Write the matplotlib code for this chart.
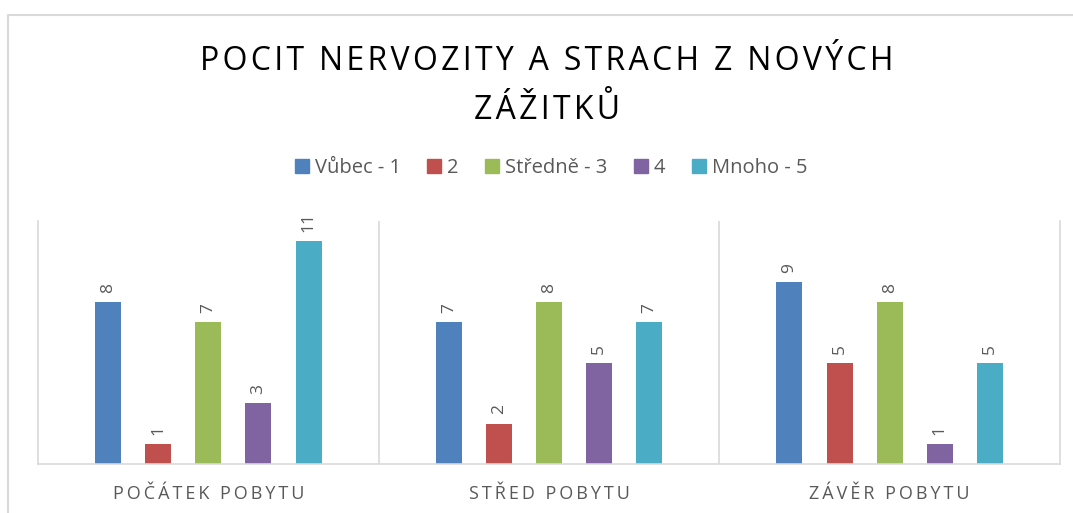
import matplotlib
matplotlib.use("Agg")

import matplotlib.pyplot as plt
from matplotlib.lines import Line2D
from matplotlib.patches import Patch
import numpy as np

plt.rcParams["font.family"] = ["Open Sans", "DejaVu Sans"]

title_lines = ["POCIT NERVOZITY A STRACH Z NOVÝCH", "ZÁŽITKŮ"]
groups = ["POČÁTEK POBYTU", "STŘED POBYTU", "ZÁVĚR POBYTU"]
series = ["Vůbec - 1", "2", "Středně - 3", "4", "Mnoho - 5"]
values = [
    [8, 7, 9],    # Vůbec - 1
    [1, 2, 5],    # 2
    [7, 8, 8],    # Středně - 3
    [3, 5, 1],    # 4
    [11, 7, 5],   # Mnoho - 5
]
colors = ["#4F81BD", "#C0504D", "#9BBB59", "#8064A2", "#4BACC6"]

GRAY = "#595959"
LINE = "#D9D9D9"


def spaced(s, sep="\u200a"):
    return sep.join(s)


W, H = 1073, 513
fig = plt.figure(figsize=(W / 100, H / 100), dpi=100)

# outer chart frame (top and left visible)
fig.add_artist(Line2D([8 / W, 8 / W, 1], [0, 1 - 15 / H, 1 - 15 / H],
                      transform=fig.transFigure, color=LINE, lw=1.5))

ax = fig.add_axes([38 / W, 49 / H, (1060 - 38) / W, (464 - 221) / H])

x = np.arange(len(groups))
pitch = 50 / 340
width = 26 / 340
for i, (name, vals, c) in enumerate(zip(series, values, colors)):
    pos = x + (i - 2) * pitch
    ax.bar(pos, vals, width=width, color=c, label=name)
    for p, v in zip(pos, vals):
        ax.text(p, v + 0.45, str(v), rotation=90, ha="center", va="bottom",
                color=GRAY, fontsize=12.5)

ax.set_xlim(-0.5, len(groups) - 0.5)
ax.set_ylim(0, 12)
ax.set_yticks([])
ax.set_xticks(x)
ax.set_xticklabels([spaced(g, "\u2009") for g in groups], color=GRAY, fontsize=13)
ax.tick_params(axis="x", length=0, pad=15)
for b in x[:-1] + 0.5:
    ax.axvline(b, color=LINE, lw=1.2)
ax.spines["top"].set_visible(False)
for s in ["left", "right", "bottom"]:
    ax.spines[s].set_color(LINE)
    ax.spines[s].set_linewidth(1.2)

fig.text(547 / W, 1 - 86 / H, "\n".join(spaced(t) for t in title_lines),
         ha="center", va="center", fontsize=23, color="black", linespacing=1.62)

handles = [Patch(color=c, label=s) for s, c in zip(series, colors)]
fig.legend(handles=handles, loc="center", bbox_to_anchor=(551 / W, 1 - 168 / H),
           ncol=5, frameon=False, fontsize=14.5, labelcolor=GRAY,
           handlelength=0.7, handleheight=0.7, handletextpad=0.3, columnspacing=1.3)

fig.savefig("out.png", dpi=100)
